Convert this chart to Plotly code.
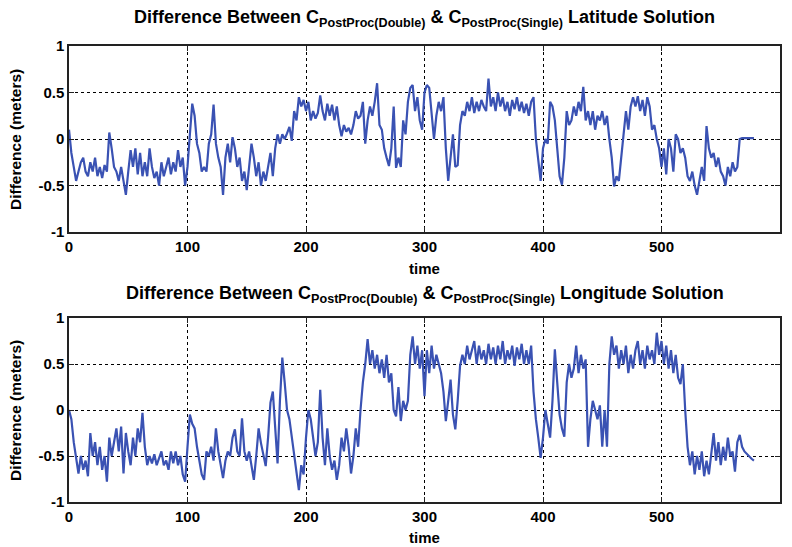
import plotly.graph_objects as go

time = list(range(0, 580, 2))

lat_diff = [
    0.1, -0.15, -0.3, -0.45, -0.35, -0.25, -0.2, -0.35, -0.4, -0.25,
    -0.35, -0.2, -0.4, -0.3, -0.42, -0.28, -0.35, 0.07, -0.1, -0.3,
    -0.35, -0.45, -0.3, -0.45, -0.6, -0.35, -0.12, -0.3, -0.1, -0.38,
    -0.15, -0.4, -0.25, -0.4, -0.1, -0.3, -0.42, -0.35, -0.5, -0.25,
    -0.4, -0.3, -0.2, -0.38, -0.25, -0.35, -0.12, -0.3, -0.2, -0.5,
    -0.3, 0.05, 0.38, 0.25, -0.05, -0.15, -0.35, -0.3, -0.35, -0.05,
    0.05, 0.37, -0.05, -0.2, -0.3, -0.6, -0.2, -0.05, -0.25, 0.02,
    -0.1, -0.3, -0.2, -0.45, -0.35, -0.55, -0.3, -0.05, -0.2, -0.4,
    -0.25, -0.5, -0.35, -0.45, -0.3, -0.15, -0.4, -0.1, 0.05, -0.05,
    0.05, 0.0, 0.06, 0.13, -0.02, 0.3, 0.2, 0.45, 0.35, 0.42,
    0.3, 0.4, 0.2, 0.3, 0.22, 0.28, 0.47, 0.3, 0.2, 0.38,
    0.25, 0.37, 0.2, 0.35, 0.15, 0.03, 0.15, 0.08, 0.12, 0.05,
    0.15, 0.3, 0.22, 0.25, 0.4, -0.05, 0.2, 0.35, 0.25, 0.4,
    0.6, 0.15, 0.1, -0.1, -0.2, -0.29, -0.1, 0.35, -0.31, -0.2,
    -0.3, 0.2, 0.05, 0.4, 0.55, 0.58, 0.3, 0.45, 0.2, 0.1,
    0.5, 0.58, 0.55, 0.3, 0.0, 0.25, 0.4, 0.3, 0.45, -0.1,
    -0.45, -0.2, 0.05, -0.3, -0.28, 0.15, 0.3, 0.25, 0.4, 0.3,
    0.45, 0.28, 0.4, 0.3, 0.42, 0.35, 0.3, 0.65, 0.35, 0.45,
    0.3, 0.5, 0.35, 0.45, 0.3, 0.4, 0.25, 0.42, 0.32, 0.45,
    0.3, 0.4, 0.28, 0.38, 0.25, 0.4, 0.45, 0.0, -0.2, -0.45,
    -0.1, 0.0, -0.05, 0.4, 0.35, 0.2, -0.1, -0.4, -0.49, -0.2,
    0.3, 0.15, 0.2, 0.35, 0.25, 0.4, 0.3, 0.56, 0.2, 0.3,
    0.15, 0.3, 0.1, 0.25, 0.2, 0.3, 0.15, 0.25, 0.0, -0.2,
    -0.51, -0.4, -0.45, -0.2, 0.0, 0.3, 0.1, 0.35, 0.45, 0.35,
    0.46, 0.3, 0.42, 0.25, 0.45, 0.35, 0.1, 0.15, 0.0, -0.1,
    -0.3, -0.1, -0.38, 0.0, -0.1, -0.35, 0.05, 0.0, -0.15, -0.1,
    -0.2, -0.4, -0.45, -0.35, -0.5, -0.6, -0.45, -0.3, -0.45, 0.14,
    -0.1, -0.2, -0.15, -0.3, -0.2, -0.35, -0.4, -0.5, -0.3, -0.4,
    -0.25, -0.35, -0.3, 0.0, 0.01, 0.01, 0.01, 0.01, 0.01, 0.01,
]

lon_diff = [
    0.0, -0.1, -0.35, -0.55, -0.69, -0.5, -0.65, -0.55, -0.72, -0.25,
    -0.5, -0.35, -0.6, -0.4, -0.65, -0.5, -0.78, -0.3, -0.5, -0.35,
    -0.2, -0.45, -0.18, -0.69, -0.25, -0.45, -0.6, -0.3, -0.5, -0.2,
    -0.35, -0.03, -0.4, -0.6, -0.5, -0.58, -0.48, -0.6, -0.52, -0.45,
    -0.6, -0.55, -0.65, -0.45, -0.58, -0.45, -0.6, -0.5, -0.7, -0.78,
    -0.4, -0.05, -0.15, -0.2, -0.4, -0.55, -0.7, -0.76, -0.45, -0.5,
    -0.4, -0.55, -0.2, -0.45, -0.6, -0.74, -0.55, -0.45, -0.5, -0.3,
    -0.21, -0.45, -0.5, -0.09, -0.45, -0.55, -0.45, -0.6, -0.76, -0.5,
    -0.2, -0.36, -0.5, -0.61, -0.3, 0.08, 0.2, -0.2, -0.58, 0.1,
    0.57, 0.3, 0.0, -0.1, -0.3, -0.5, -0.7, -0.87, -0.6, -0.7,
    -0.3, 0.0, -0.1, -0.3, -0.5, -0.35, 0.22, -0.3, -0.6, -0.2,
    -0.5, -0.65, -0.55, -0.76, -0.6, -0.3, -0.45, -0.2, -0.4, -0.69,
    -0.5, -0.2, -0.4, 0.0, 0.3, 0.5, 0.77, 0.5, 0.65, 0.45,
    0.6, 0.4, 0.55, 0.35, 0.6, 0.3, 0.4, 0.0, -0.07, 0.25,
    -0.12, 0.1, 0.0, 0.1, 0.6, 0.8, 0.5, 0.7, 0.45, 0.65,
    0.15, 0.65, 0.4, 0.7, 0.45, 0.6, 0.5, 0.4, 0.2, -0.12,
    0.1, 0.33, -0.05, -0.21, 0.1, 0.48, 0.6, 0.5, 0.7, 0.55,
    0.65, 0.75, 0.5, 0.7, 0.55, 0.65, 0.5, 0.72, 0.55, 0.68,
    0.5, 0.7, 0.55, 0.75, 0.5, 0.65, 0.55, 0.7, 0.48, 0.68,
    0.55, 0.72, 0.5, 0.65, 0.5, 0.7, 0.2, -0.1, -0.3, -0.52,
    -0.3, 0.0, -0.15, -0.3, 0.1, 0.66, 0.3, -0.05, -0.2, -0.29,
    0.3, 0.5, 0.35, 0.45, 0.7, 0.4, 0.6, 0.45, 0.55, -0.4,
    -0.1, 0.1, 0.0, -0.1, 0.05, -0.4, 0.0, -0.4, 0.5, 0.8,
    0.6, 0.7, 0.45, 0.65, 0.5, 0.7, 0.4, 0.6, 0.45, 0.65,
    0.75, 0.5, 0.65, 0.45, 0.7, 0.55, 0.65, 0.5, 0.84, 0.6,
    0.75, 0.5, 0.7, 0.45, 0.65, 0.4, 0.6, 0.35, 0.28, 0.5,
    0.0, -0.4, -0.6, -0.45, -0.7, -0.5, -0.65, -0.45, -0.72, -0.55,
    -0.7, -0.45, -0.25, -0.55, -0.35, -0.6, -0.4, -0.55, -0.3, -0.5,
    -0.45, -0.67, -0.35, -0.27, -0.4, -0.45, -0.48, -0.51, -0.53, -0.55,
]

x_ticks = [0, 100, 200, 300, 400, 500, 600]
y_ticks = [-1, -0.5, 0, 0.5, 1]
y_tick_text = ["-1", "-0.5", "0", "0.5", "1"]

titles = [
    "Difference Between C<sub>PostProc(Double)</sub> &amp; C<sub>PostProc(Single)</sub> Latitude Solution",
    "Difference Between C<sub>PostProc(Double)</sub> &amp; C<sub>PostProc(Single)</sub> Longitude Solution",
]

LINE = "#3a52b3"
FONT = "Liberation Sans, Arial, sans-serif"

fig = go.Figure()
fig.add_trace(go.Scatter(x=time, y=lat_diff, mode="lines",
                         line=dict(color=LINE, width=2.2), xaxis="x", yaxis="y",
                         showlegend=False))
fig.add_trace(go.Scatter(x=time, y=lon_diff, mode="lines",
                         line=dict(color=LINE, width=2.2), xaxis="x2", yaxis="y2",
                         showlegend=False))

ax_common = dict(showline=True, linecolor="#222222", linewidth=1.5, mirror="ticks",
                 ticks="inside", ticklen=5, tickcolor="#222222",
                 showgrid=True, gridcolor="black", griddash="3px,3px", gridwidth=1,
                 zeroline=False, automargin=False,
                 tickfont=dict(family=FONT, size=15, color="black", weight="bold"))

fig.update_layout(
    template="none",
    width=784, height=539,
    margin=dict(l=61, r=12, t=38, b=45, autoexpand=False),
    paper_bgcolor="white", plot_bgcolor="white",
    font=dict(family=FONT, color="black"),
    xaxis=dict(domain=[0, 1], anchor="y", range=[0, 600], tickvals=x_ticks, **ax_common),
    yaxis=dict(domain=[0.592, 1], anchor="x", range=[-1, 1], tickvals=y_ticks,
               ticktext=y_tick_text, **ax_common),
    xaxis2=dict(domain=[0, 1], anchor="y2", range=[0, 600], tickvals=x_ticks, **ax_common),
    yaxis2=dict(domain=[0, 0.4035], anchor="x2", range=[-1, 1], tickvals=y_ticks,
                ticktext=y_tick_text, **ax_common),
)

ann_font = dict(family=FONT, size=18, color="black", weight="bold")
lab_font = dict(family=FONT, size=15, color="black", weight="bold")
ylab_font = dict(family=FONT, size=15.5, color="black", weight="bold")
fig.add_annotation(text=titles[0], xref="paper", yref="paper", x=0.5, y=1.061,
                   showarrow=False, font=ann_font, xanchor="center", yanchor="middle")
fig.add_annotation(text=titles[1], xref="paper", yref="paper", x=0.5, y=0.454,
                   showarrow=False, font=ann_font, xanchor="center", yanchor="middle")
fig.add_annotation(text="time", xref="paper", yref="paper", x=0.5, y=0.513,
                   showarrow=False, font=lab_font, xanchor="center", yanchor="middle")
fig.add_annotation(text="time", xref="paper", yref="paper", x=0.5, y=-0.077,
                   showarrow=False, font=lab_font, xanchor="center", yanchor="middle")
fig.add_annotation(text="Difference (meters)", xref="paper", yref="paper", x=-0.076,
                   y=0.796, textangle=-90, showarrow=False, font=ylab_font,
                   xanchor="center", yanchor="middle")
fig.add_annotation(text="Difference (meters)", xref="paper", yref="paper", x=-0.076,
                   y=0.2017, textangle=-90, showarrow=False, font=ylab_font,
                   xanchor="center", yanchor="middle")

fig.write_html("out.html")
